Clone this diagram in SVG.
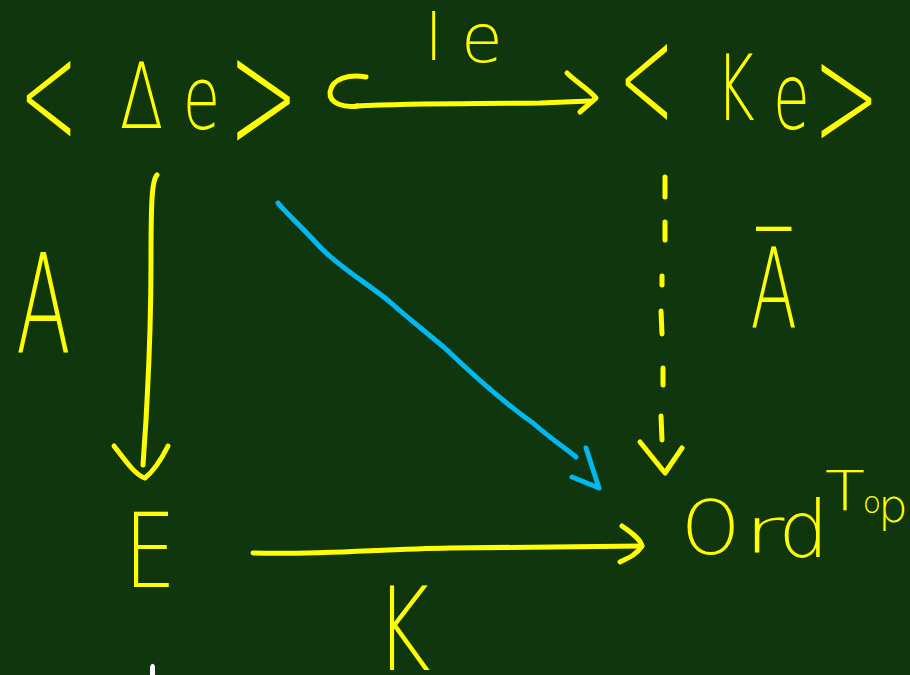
<svg xmlns="http://www.w3.org/2000/svg" width="910" height="675" viewBox="0 0 910 675">
<style>
.bg{fill:#0f360c}
.t{font-family:"DejaVu Sans","Liberation Sans",sans-serif;font-weight:200;fill:#ffff00;text-anchor:middle}
.y{fill:none;stroke:#ffff00;stroke-width:5;stroke-linecap:round;stroke-linejoin:round}
.b{fill:none;stroke:#00b8f0;stroke-width:5;stroke-linecap:round;stroke-linejoin:round}
</style>
<rect class="bg" x="0" y="0" width="910" height="675"/>
<g id="node-delta-e">
<text class="t" transform="scale(0.7 1)"><tspan x="69.3" y="146" font-size="151" textLength="83" lengthAdjust="spacingAndGlyphs">&lt;</tspan><tspan x="202.1" y="128" font-size="91">Δ</tspan><tspan x="287.9" y="129" font-size="87">e</tspan><tspan x="376.4" y="151" font-size="162" textLength="100" lengthAdjust="spacingAndGlyphs">&gt;</tspan></text>
</g>
<g id="node-k-e">
<text class="t" transform="scale(0.65 1)"><tspan x="994.6" y="130" font-size="153" textLength="85" lengthAdjust="spacingAndGlyphs">&lt;</tspan><tspan x="1131.5" y="120" font-size="91">K</tspan><tspan x="1217.7" y="129" font-size="92">e</tspan><tspan x="1302.3" y="148.5" font-size="149" textLength="102" lengthAdjust="spacingAndGlyphs">&gt;</tspan></text>
</g>
<g id="node-E">
<text class="t" transform="scale(0.8 1)" x="187.5" y="587" font-size="103">E</text>
</g>
<g id="node-ord-top">
<text class="t"><tspan x="710.5" y="554" font-size="74">O</tspan><tspan x="764" y="553" font-size="62" textLength="41" lengthAdjust="spacingAndGlyphs">r</tspan><tspan x="803.5" y="557" font-size="79">d</tspan><tspan x="845" y="510" font-size="56" textLength="40" lengthAdjust="spacingAndGlyphs">T</tspan><tspan x="872" y="513" font-size="30">o</tspan><tspan x="893" y="522" font-size="47">p</tspan></text>
</g>
<g id="connectors">
<path class="y" d="M366,77 C350,74 332,78 330,92 C329,104 345,108 358,106"/>
<path class="y" d="M356,106 C420,103 480,104 540,103 L590,101"/>
<path class="y" d="M567,73 C576,82 590,90 596,98 L580,112"/>
<path class="y" d="M157,175 C152,180 151,200 151,260 C151,340 148,380 146,420 L143,465"/>
<path class="y" d="M114,446 C125,460 135,475 145,478 C155,470 162,458 168,446"/>
<path class="y" d="M665,177 L665,197 M665,222 L665,240 M662,276 L662,285 M661,311 L662,334 M663,368 L663,385 M661,416 L662,440"/>
<path class="y" d="M640,442 L665,473 L682,448"/>
<path class="b" d="M278,203 C285,212 300,225 320,247 C340,268 370,285 390,302 C410,320 430,335 447,350 C470,372 500,400 533,423 C550,438 565,448 576,457"/>
<path class="b" d="M586,448 L599,488 L572,477"/>
<path class="y" d="M253,553 C320,555 380,549 450,548 L642,546"/>
<path class="y" d="M622,526 C630,532 640,538 642,546 C636,555 628,558 620,562"/>
</g>
<g id="labels">
<text class="t"><tspan x="434" y="60" font-size="64">l</tspan><tspan x="482" y="62" font-size="68">e</tspan></text>
<text class="t" transform="scale(0.58 1)" x="75" y="352" font-size="138">A</text>
<text class="t" transform="scale(0.62 1)" x="1248" y="327" font-size="110">A̅</text>
<text class="t" transform="scale(0.73 1)" x="552" y="670" font-size="115">K</text>
</g>
<path d="M150,675 L150,667 Q152,661 155,666 L155,675 Z" fill="#ffffff"/>
</svg>
